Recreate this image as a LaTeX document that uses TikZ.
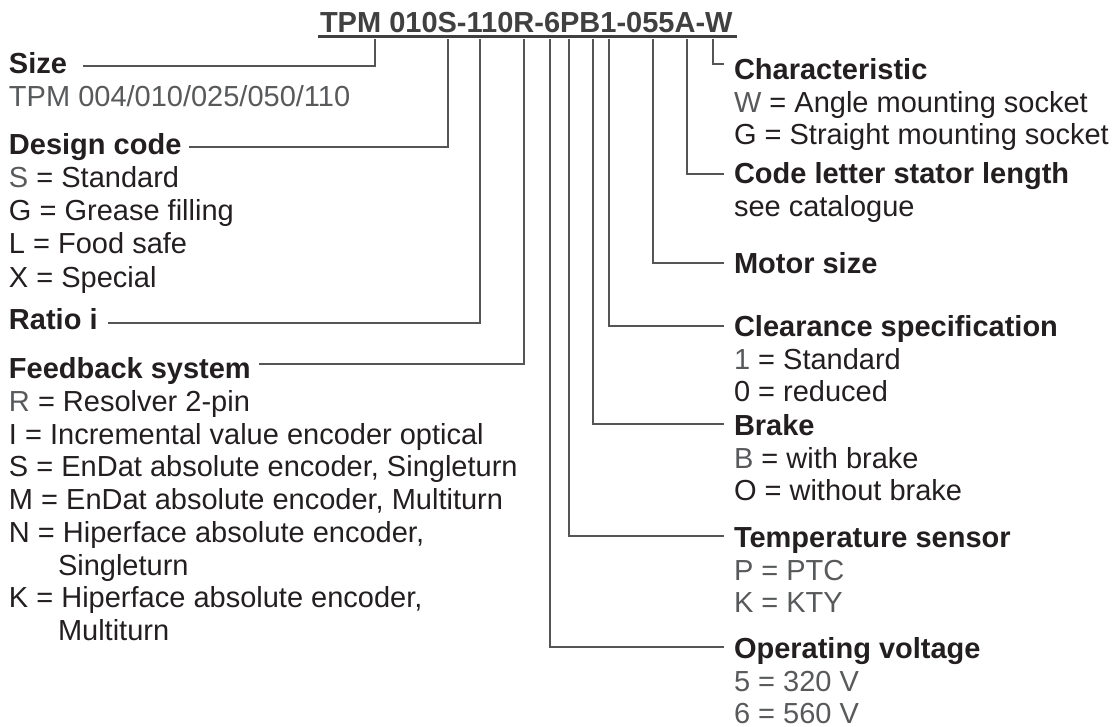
\documentclass[tikz,border=0pt]{standalone}
\usepackage{fontspec}
\setmainfont{Liberation Sans}
\definecolor{txt}{HTML}{231F20}
\definecolor{soft}{HTML}{58595B}
\definecolor{ttl}{HTML}{404040}
\definecolor{lin}{HTML}{555555}
\begin{document}
\begin{tikzpicture}[x=1pt,y=-1pt,
  base/.style={inner sep=0pt, outer sep=0pt, anchor=base west, text=txt, font=\fontsize{29}{33}\selectfont},
  hd/.style={base, font=\fontsize{29}{33}\selectfont\bfseries},
  it/.style={base},
  gr/.style={base, text=soft},
  ttlstyle/.style={inner sep=0pt, outer sep=0pt, anchor=base west, text=ttl, font=\fontsize{29}{33}\selectfont\bfseries},
  ln/.style={draw=lin, line width=1.3pt},
  ul/.style={draw=ttl, line width=2.4pt}]
\useasboundingbox (0,0) rectangle (1118,727);

% title
\node[ttlstyle] (code) at (320,33) {TPM 010S-110R-6PB1-055A-W};
\coordinate (ulL) at (318,36.5);
\coordinate (ulR) at (737,36.5);
\draw[ul] (ulL) -- (ulR);

% left column
\node[hd] (size) at (9,74) {Size};
\node[gr] (sizeA) at (9,107) {TPM 004/010/025/050/110};

\node[hd] (design) at (9,155) {Design code};
\node[it] (designA) at (9,188) {\textcolor{soft}{S} = Standard};
\node[it] (designB) at (9,221) {G = Grease filling};
\node[it] (designC) at (9,254) {L = Food safe};
\node[it] (designD) at (9,287) {X = Special};

\node[hd] (ratio) at (9,329) {Ratio i};

\node[hd] (feed) at (9,378) {Feedback system};
\node[it] (feedA) at (9,411) {\textcolor{soft}{R} = Resolver 2-pin};
\node[it] (feedB) at (9,444) {I = Incremental value encoder optical};
\node[it] (feedC) at (9,476) {S = EnDat absolute encoder, Singleturn};
\node[it] (feedD) at (9,509) {M = EnDat absolute encoder, Multiturn};
\node[it] (feedE) at (9,542) {N = Hiperface absolute encoder,};
\node[it] (feedF) at (58,575) {Singleturn};
\node[it] (feedG) at (9,607) {K = Hiperface absolute encoder,};
\node[it] (feedH) at (58,640) {Multiturn};

% right column
\node[hd] (char) at (734,80) {Characteristic};
\node[it] (charA) at (734,113) {\textcolor{soft}{W} = Angle mounting socket};
\node[it] (charB) at (734,145) {G = Straight mounting socket};

\node[hd] (stator) at (734,184) {Code letter stator length};
\node[it] (statorA) at (734,217) {see catalogue};

\node[hd] (motor) at (734,273) {Motor size};

\node[hd] (clear) at (734,336) {Clearance specification};
\node[it] (clearA) at (734,369) {\textcolor{soft}{1} = Standard};
\node[it] (clearB) at (734,401) {0 = reduced};

\node[hd] (brake) at (734,435) {Brake};
\node[it] (brakeA) at (734,468) {\textcolor{soft}{B} = with brake};
\node[it] (brakeB) at (734,500) {O = without brake};

\node[hd] (temp) at (734,547) {Temperature sensor};
\node[gr] (tempA) at (734,580) {P = PTC};
\node[gr] (tempB) at (734,612) {K = KTY};

\node[hd] (volt) at (734,658) {Operating voltage};
\node[gr] (voltA) at (734,691) {5 = 320 V};
\node[gr] (voltB) at (734,723) {6 = 560 V};

% tap points under the type code
\coordinate (tSize)   at (375,39);
\coordinate (tDesign) at (448,39);
\coordinate (tRatio)  at (480,39);
\coordinate (tFeed)   at (524,39);
\coordinate (tVolt)   at (550,39);
\coordinate (tTemp)   at (569,39);
\coordinate (tBrake)  at (593,39);
\coordinate (tClear)  at (609,39);
\coordinate (tMotor)  at (653,39);
\coordinate (tStator) at (687,39);
\coordinate (tChar)   at (713,39);

% line ends beside the labels
\coordinate (eSize)   at (83,66);
\coordinate (eDesign) at (189,147);
\coordinate (eRatio)  at (108,323);
\coordinate (eFeed)   at (259,364);
\coordinate (eChar)   at (724,64);
\coordinate (eStator) at (724,174);
\coordinate (eMotor)  at (724,263);
\coordinate (eClear)  at (724,326);
\coordinate (eBrake)  at (724,424);
\coordinate (eTemp)   at (724,536);
\coordinate (eVolt)   at (724,647);

\draw[ln] (tSize) |- (eSize);
\draw[ln] (tDesign) |- (eDesign);
\draw[ln] (tRatio) |- (eRatio);
\draw[ln] (tFeed) |- (eFeed);
\draw[ln] (tChar) |- (eChar);
\draw[ln] (tStator) |- (eStator);
\draw[ln] (tMotor) |- (eMotor);
\draw[ln] (tClear) |- (eClear);
\draw[ln] (tBrake) |- (eBrake);
\draw[ln] (tTemp) |- (eTemp);
\draw[ln] (tVolt) |- (eVolt);
\end{tikzpicture}
\end{document}
